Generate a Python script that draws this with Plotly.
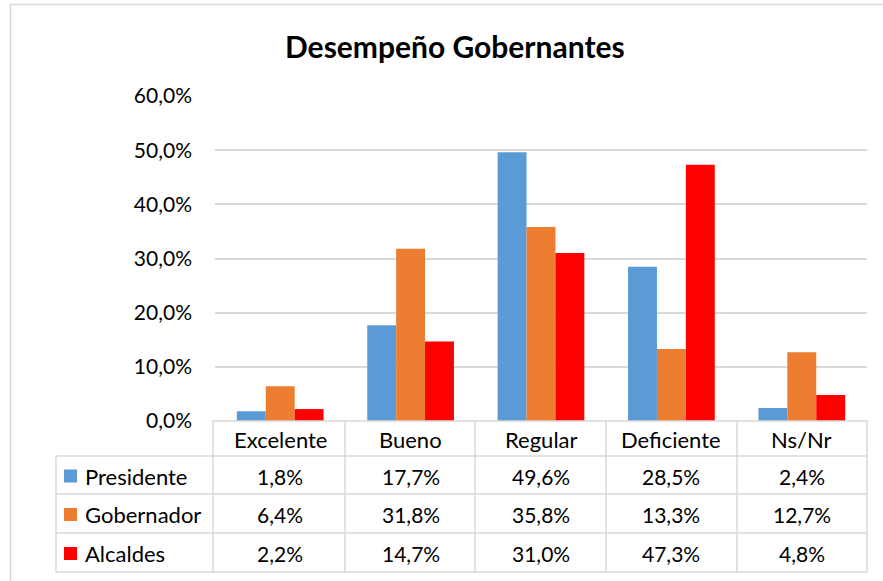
import plotly.graph_objects as go

categories = ["Excelente", "Bueno", "Regular", "Deficiente", "Ns/Nr"]
series_names = ["Presidente", "Gobernador", "Alcaldes"]
presidente = [1.8, 17.7, 49.6, 28.5, 2.4]
gobernador = [6.4, 31.8, 35.8, 13.3, 12.7]
alcaldes = [2.2, 14.7, 31.0, 47.3, 4.8]
colors = ["#5B9BD5", "#ED7D31", "#FF0000"]
title = "Desempeño Gobernantes"

W, H = 883, 581
ML, MR, MT, MB = 215, 16, 96, 160
PW = W - ML - MR
PH = H - MT - MB
FONT = "Lato, Carlito, Calibri, sans-serif"
GRID = "#D9D9D9"
WORD_SIZE = 22
NUM_SIZE = 21


def px(x):
    return (x - ML) / PW


def py(y):
    return (H - MB - y) / PH


def fmt(v):
    return f"{v:.1f}%".replace(".", ",")


series = [presidente, gobernador, alcaldes]

fig = go.Figure()
for name, vals, col in zip(series_names, series, colors):
    fig.add_trace(go.Bar(x=categories, y=vals, name=name, marker=dict(color=col, line=dict(width=0)),
                         showlegend=False))

shapes = []
annotations = []

# table geometry (pixels)
col_x = [213, 345, 475, 606, 737, 867]
left_x = 56
row_y = [421, 456, 494, 533, 572]

line_style = dict(color=GRID, width=1.5)
shapes.append(dict(type="line", xref="paper", yref="paper", x0=px(col_x[0]), x1=px(col_x[-1]),
                   y0=py(row_y[0]), y1=py(row_y[0]), line=line_style))
for yy in row_y[1:]:
    shapes.append(dict(type="line", xref="paper", yref="paper", x0=px(left_x), x1=px(col_x[-1]),
                       y0=py(yy), y1=py(yy), line=line_style))
for xx in col_x:
    shapes.append(dict(type="line", xref="paper", yref="paper", x0=px(xx), x1=px(xx),
                       y0=py(row_y[0]), y1=py(row_y[-1]), line=line_style))
shapes.append(dict(type="line", xref="paper", yref="paper", x0=px(left_x), x1=px(left_x),
                   y0=py(row_y[1]), y1=py(row_y[-1]), line=line_style))

# outer chart border
shapes.append(dict(type="rect", xref="paper", yref="paper", x0=px(10.5), x1=px(W + 5),
                   y0=py(H + 5), y1=py(4.5), line=line_style))

# header labels
for c in categories:
    annotations.append(dict(x=c, xref="x", y=py((row_y[0] + row_y[1]) / 2 + 1), yref="paper",
                            text=c, showarrow=False, xanchor="center", yanchor="middle",
                            font=dict(family=FONT, size=WORD_SIZE, color="#000000")))

# rows
for r, (name, vals, col) in enumerate(zip(series_names, series, colors)):
    yc = (row_y[r + 1] + row_y[r + 2]) / 2 + 1
    shapes.append(dict(type="rect", xref="paper", yref="paper", x0=px(64), x1=px(77),
                       y0=py(yc + 6.5), y1=py(yc - 6.5), fillcolor=col, line=dict(width=0)))
    annotations.append(dict(x=px(83), xref="paper", y=py(yc), yref="paper", text=name,
                            showarrow=False, xanchor="left", yanchor="middle",
                            font=dict(family=FONT, size=WORD_SIZE, color="#000000")))
    for c, v in zip(categories, vals):
        annotations.append(dict(x=c, xref="x", y=py(yc), yref="paper", text=fmt(v),
                                showarrow=False, xanchor="center", yanchor="middle",
                                font=dict(family=FONT, size=NUM_SIZE, color="#000000")))

annotations.append(dict(x=px(455), xref="paper", y=py(46), yref="paper", text=f"<b>{title}</b>",
                        showarrow=False, xanchor="center", yanchor="middle",
                        font=dict(family=FONT, size=30, color="#000000")))

fig.update_layout(
    width=W, height=H,
    margin=dict(l=ML, r=MR, t=MT, b=MB, autoexpand=False),
    paper_bgcolor="white", plot_bgcolor="white",
    barmode="group", bargap=0.335, bargroupgap=0,
    separators=",.",
    font=dict(family=FONT, size=NUM_SIZE, color="#000000"),
    shapes=shapes, annotations=annotations,
)
fig.update_xaxes(showticklabels=False, showgrid=False, zeroline=False, showline=False, ticks="")
fig.update_yaxes(range=[0, 60], dtick=10, tickformat=".1f", ticksuffix="%", showgrid=True,
                 gridcolor=GRID, gridwidth=1.5, zeroline=False, showline=False, ticks="",
                 ticklabelstandoff=22, tickfont=dict(family=FONT, size=NUM_SIZE, color="#000000"))

fig.write_html("out.html", config={"displayModeBar": False},
               post_script="document.body.style.margin='0';document.body.style.padding='0';")
